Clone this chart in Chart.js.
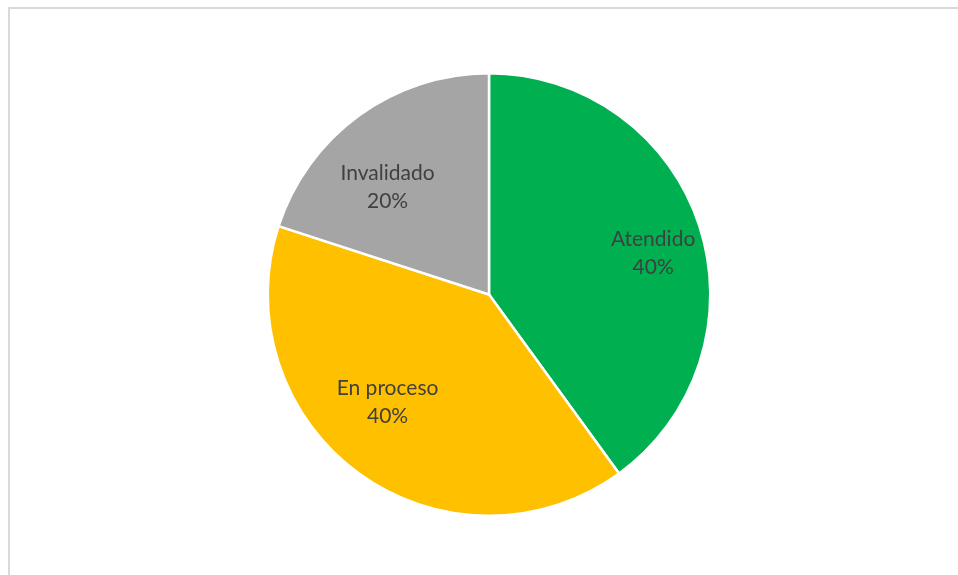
<!DOCTYPE html>
<html>
<head>
<meta charset="utf-8">
<script src="https://cdn.jsdelivr.net/npm/chart.js@4"></script>
<style>
  html, body { margin: 0; padding: 0; background: #fff; overflow: hidden; }
  #wrap { position: relative; width: 958px; height: 575px; }
  #frame { position: absolute; left: 8px; top: 7px; width: 1000px; height: 600px; border: 2px solid #d9d9d9; box-sizing: border-box; }
  canvas { position: absolute; left: 0; top: 0; }
</style>
</head>
<body>
<div id="wrap">
  <div id="frame"></div>
  <canvas id="myChart" width="958" height="575"></canvas>
</div>
<script>
const categories = ["Atendido", "En proceso", "Invalidado"];
const values = [40, 40, 20];
const percentLabels = ["40%", "40%", "20%"];
const colors = ["#00b050", "#ffc000", "#a5a5a5"];

// draws "name\npct" inside each slice
const sliceLabels = {
  id: "sliceLabels",
  afterDatasetsDraw(chart) {
    const ctx = chart.ctx;
    const meta = chart.getDatasetMeta(0);
    ctx.save();
    ctx.font = "21px Lato, Carlito, sans-serif";
    ctx.fillStyle = "#404040";
    ctx.textAlign = "center";
    ctx.textBaseline = "middle";
    meta.data.forEach((arc, i) => {
      const p = arc.getProps(["x", "y", "startAngle", "endAngle", "outerRadius"], true);
      const mid = (p.startAngle + p.endAngle) / 2;
      const cx = p.x + Math.cos(mid) * p.outerRadius * 0.78;
      const cy = p.y + Math.sin(mid) * p.outerRadius * 0.6;
      ctx.fillText(categories[i], cx, cy - 14);
      ctx.fillText(percentLabels[i], cx, cy + 14);
    });
    ctx.restore();
  }
};

const chart = new Chart("myChart", {
  type: "pie",
  data: {
    labels: categories,
    datasets: [{
      data: values,
      backgroundColor: colors,
      borderColor: "#ffffff",
      borderWidth: 2.5
    }]
  },
  options: {
    responsive: false,
    animation: false,
    layout: {padding: {left: 20, right: 0, top: 72, bottom: 58}},
    plugins: {
      legend: {display: false},
      tooltip: {enabled: false}
    }
  },
  plugins: [sliceLabels]
});
</script>
</body>
</html>
